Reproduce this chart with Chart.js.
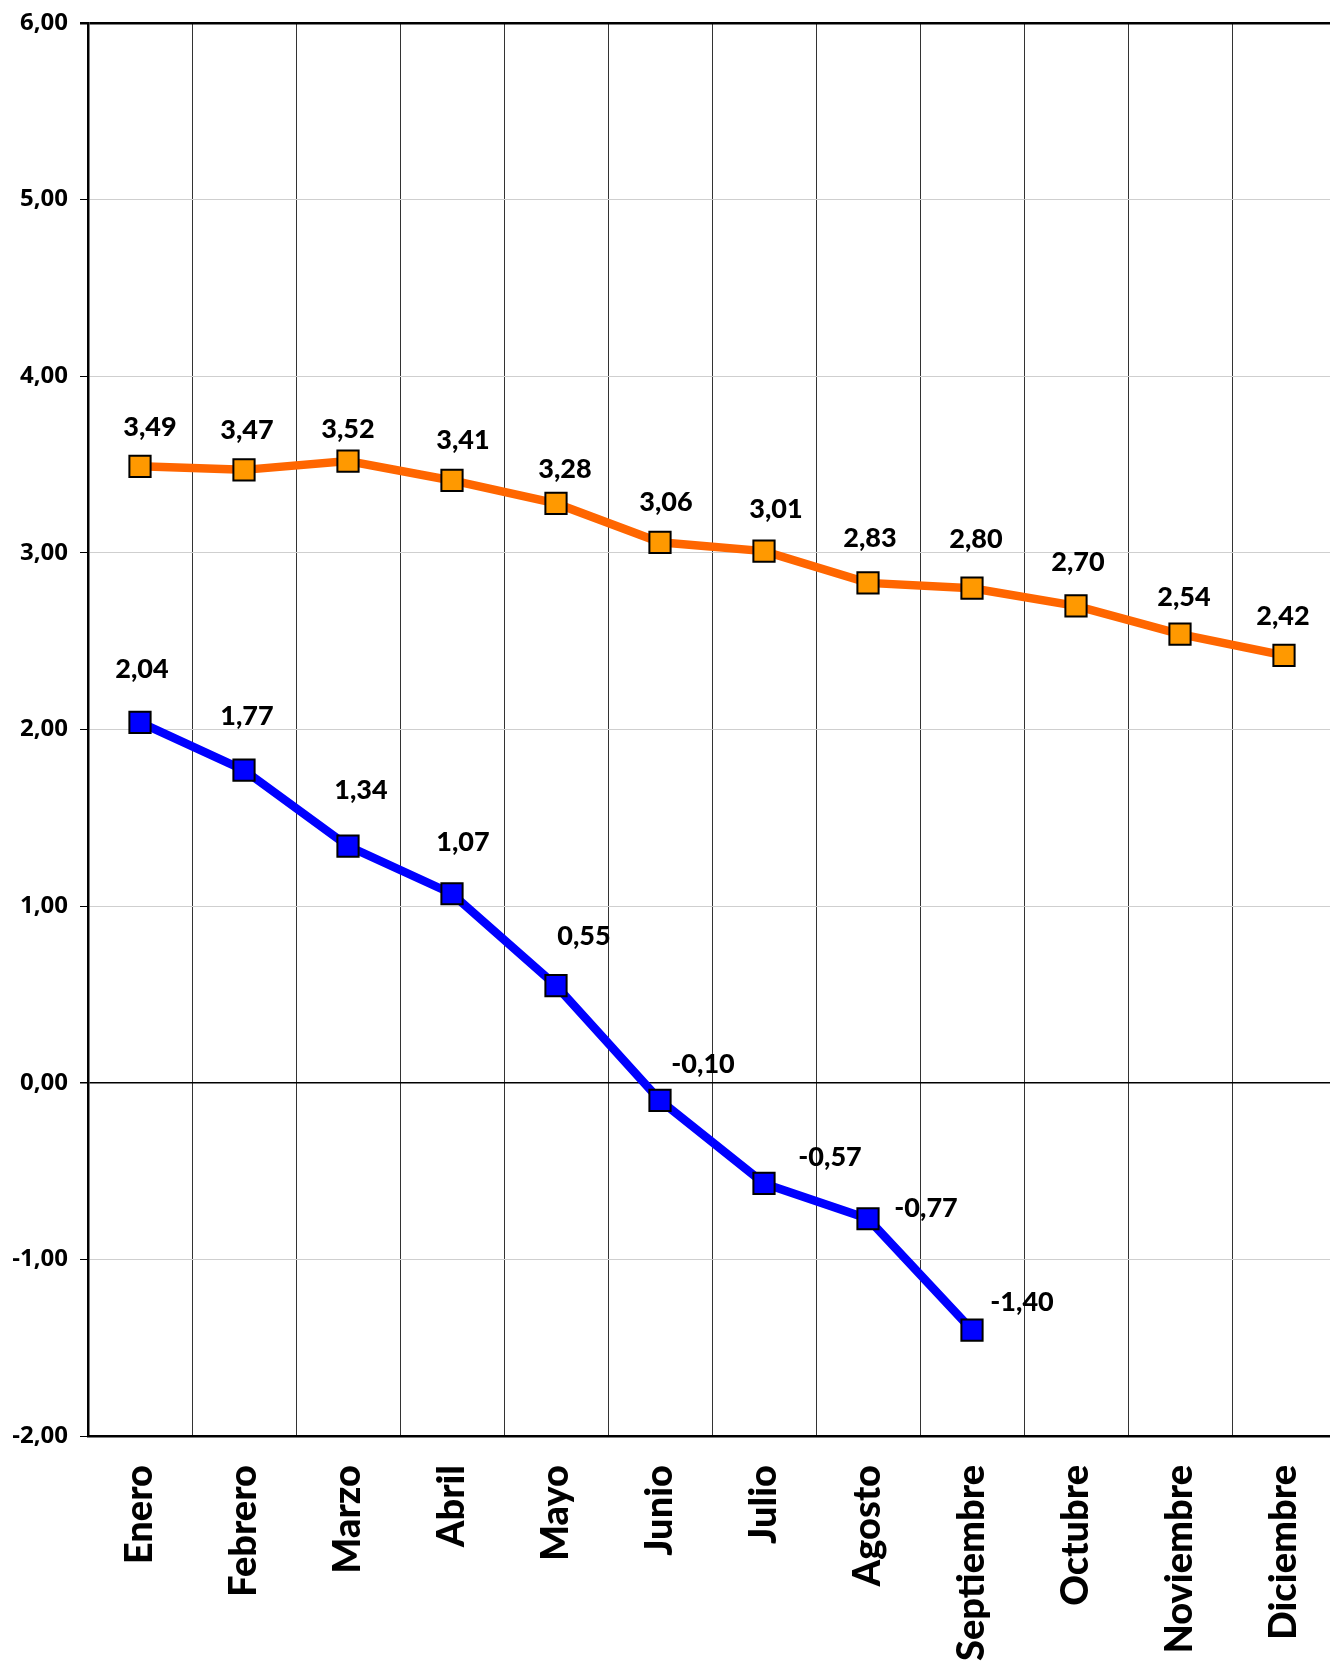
<!DOCTYPE html>
<html>
<head>
<meta charset="utf-8">
<script src="https://cdn.jsdelivr.net/npm/chart.js@4/dist/chart.umd.min.js"></script>
<style>
  html, body { margin: 0; padding: 0; background: #fff; }
  #wrap { width: 1330px; height: 1670px; overflow: hidden; }
</style>
</head>
<body>
<div id="wrap"><canvas id="lineChart" width="1340" height="1670"></canvas></div>
<script>
// categories and series
const months = ['Enero', 'Febrero', 'Marzo', 'Abril', 'Mayo', 'Junio', 'Julio',
  'Agosto', 'Septiembre', 'Octubre', 'Noviembre', 'Diciembre'];
const orangeValues = [3.49, 3.47, 3.52, 3.41, 3.28, 3.06, 3.01, 2.83, 2.80, 2.70, 2.54, 2.42];
const blueValues = [2.04, 1.77, 1.34, 1.07, 0.55, -0.10, -0.57, -0.77, -1.40, null, null, null];
const yTicks = [-2, -1, 0, 1, 2, 3, 4, 5, 6];

// hand-placed label offsets (px) like in the original sheet
const orangeLabelOffsets = [[10,-39],[3,-40],[0,-32],[11,-40],[9,-34],[6,-40],[12,-42],[2,-45],[4,-49],[2,-44],[4,-37],[-1,-39]];
const blueLabelOffsets = [[2,-53],[3,-54],[13,-56],[11,-51],[28,-49],[43,-36],[66,-26],[58,-10],[50,-28]];

const fmt = v => v.toFixed(2).replace('.', ',');

const valueLabels = {
  id: 'valueLabels',
  afterDatasetsDraw(chart) {
    const c = chart.ctx;
    c.save();
    c.font = '900 27px Lato';
    c.fillStyle = '#000';
    c.textAlign = 'center';
    c.textBaseline = 'middle';
    chart.data.datasets.forEach((ds, i) => {
      const offs = i === 0 ? orangeLabelOffsets : blueLabelOffsets;
      chart.getDatasetMeta(i).data.forEach((pt, j) => {
        const v = ds.data[j];
        if (v === null || v === undefined) return;
        const o = offs[j] || [0, -40];
        c.fillText(fmt(v), pt.x + o[0], pt.y + o[1]);
      });
    });
    c.restore();
  }
};

new Chart(document.getElementById('lineChart'), {
  type: 'line',
  data: {
    labels: months,
    datasets: [{
      data: orangeValues,
      borderColor: '#ff6600',
      borderWidth: 8.5,
      pointStyle: 'rect',
      pointRadius: 15,
      pointBackgroundColor: '#ff9900',
      pointBorderColor: '#000',
      pointBorderWidth: 2,
      tension: 0
    }, {
      data: blueValues,
      borderColor: '#0000ff',
      borderWidth: 8.5,
      pointStyle: 'rect',
      pointRadius: 15,
      pointBackgroundColor: '#0000ff',
      pointBorderColor: '#000',
      pointBorderWidth: 2,
      tension: 0
    }]
  },
  options: {
    responsive: false,
    animation: false,
    layout: { autoPadding: false, padding: { top: 23, right: 4, left: 0, bottom: 0 } },
    plugins: { legend: { display: false }, tooltip: { enabled: false } },
    scales: {
      x: {
        offset: true,
        afterFit: s => { s.height = 234; s.paddingLeft = 0; s.paddingRight = 0; },
        grid: { offset: true, color: '#333', lineWidth: 1, drawTicks: false },
        border: { color: '#000', width: 2.5 },
        ticks: {
          minRotation: 90, maxRotation: 90, padding: 29, color: '#000',
          font: { family: 'Lato', size: 38, weight: '900' }
        }
      },
      y: {
        min: -2, max: 6,
        afterFit: s => { s.width = 88; s.paddingTop = 0; s.paddingBottom = 0; },
        afterBuildTicks: s => { s.ticks = yTicks.map(v => ({ value: v })); },
        grid: {
          color: ctx => (ctx.tick && (ctx.tick.value === 0 || ctx.tick.value === 6)) ? '#000' : '#cfcfcf',
          lineWidth: ctx => (ctx.tick && ctx.tick.value === 6) ? 2.5 : (ctx.tick && ctx.tick.value === 0 ? 1.5 : 1),
          tickColor: '#000', tickLength: 8
        },
        border: { color: '#000', width: 2.5 },
        ticks: {
          padding: 12, color: '#000',
          font: { family: 'Open Sans', size: 24, weight: 'bold' },
          callback: v => fmt(v)
        }
      }
    }
  },
  plugins: [valueLabels]
});
</script>
</body>
</html>
